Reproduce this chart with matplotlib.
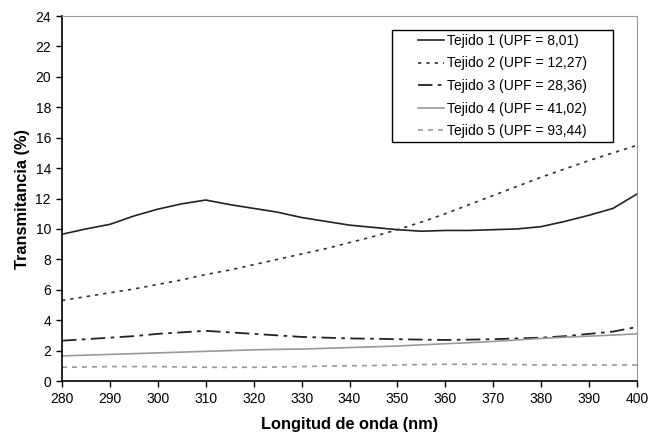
import matplotlib.pyplot as plt
import numpy as np
from matplotlib.patches import Rectangle
from matplotlib.transforms import IdentityTransform

plt.rcParams['font.family'] = ['Liberation Sans', 'DejaVu Sans']

# wavelength (nm), 5 nm steps
wavelength = np.arange(280, 401, 5)

tejido_1 = [9.65, 10.0, 10.3, 10.85, 11.3, 11.65, 11.9, 11.6, 11.35, 11.1, 10.75, 10.5, 10.25,
            10.1, 9.95, 9.85, 9.9, 9.9, 9.95, 10.0, 10.15, 10.5, 10.9, 11.35, 12.3]
tejido_2 = [5.3, 5.55, 5.8, 6.05, 6.35, 6.65, 7.0, 7.3, 7.65, 8.0, 8.35, 8.7, 9.1,
            9.5, 9.95, 10.45, 11.0, 11.6, 12.2, 12.8, 13.4, 13.95, 14.5, 15.0, 15.5]
tejido_3 = [2.65, 2.75, 2.85, 2.95, 3.1, 3.2, 3.3, 3.2, 3.1, 3.0, 2.9, 2.85, 2.8,
            2.78, 2.75, 2.72, 2.7, 2.72, 2.75, 2.8, 2.85, 2.95, 3.1, 3.25, 3.55]
tejido_4 = [1.65, 1.7, 1.75, 1.8, 1.85, 1.9, 1.95, 2.0, 2.05, 2.08, 2.1, 2.15, 2.2,
            2.25, 2.3, 2.38, 2.45, 2.52, 2.6, 2.7, 2.8, 2.88, 2.95, 3.02, 3.1]
tejido_5 = [0.9, 0.92, 0.95, 0.95, 0.95, 0.92, 0.9, 0.9, 0.9, 0.92, 0.95, 0.98, 1.0,
            1.02, 1.05, 1.08, 1.1, 1.1, 1.1, 1.08, 1.05, 1.05, 1.05, 1.05, 1.05]

labels = ["Tejido 1 (UPF = 8,01)", "Tejido 2 (UPF = 12,27)", "Tejido 3 (UPF = 28,36)",
          "Tejido 4 (UPF = 41,02)", "Tejido 5 (UPF = 93,44)"]

fig = plt.figure(figsize=(6.61, 4.34), dpi=100)
ax = fig.add_axes([0.0938, 0.1221, 0.8699, 0.841])

ax.plot(wavelength, tejido_1, color='#222222', lw=1.2, ls='-', label=labels[0])
ax.plot(wavelength, tejido_2, color='#333333', lw=1.2, ls=(0, (2, 3)), label=labels[1])
ax.plot(wavelength, tejido_3, color='#222222', lw=1.3, ls=(0, (8, 3, 2, 3)), label=labels[2])
ax.plot(wavelength, tejido_4, color='#999999', lw=1.2, ls='-', label=labels[3])
ax.plot(wavelength, tejido_5, color='#999999', lw=1.2, ls=(0, (3, 3)), label=labels[4])

ax.set_xlim(280, 400)
ax.set_ylim(0, 24)
ax.set_xticks(np.arange(280, 401, 10))
ax.set_yticks(np.arange(0, 25, 2))
ax.tick_params(direction='out', length=4, width=1, labelsize=10, colors='black', pad=4)

for side in ('top', 'right'):
    ax.spines[side].set_color('#999999')
for side in ('left', 'bottom'):
    ax.spines[side].set_color('black')
    ax.spines[side].set_linewidth(1.2)

ax.set_xlabel("Longitud de onda (nm)", fontsize=11.8, fontweight='bold', labelpad=8)
ax.set_ylabel("Transmitancia (%)", fontsize=11.8, fontweight='bold', labelpad=4)

# legend without frame, then a wider box drawn around it (Excel-like padding)
leg = ax.legend(loc='center', bbox_to_anchor=(502.5 / 661, 1 - 86 / 434),
                bbox_transform=fig.transFigure, fontsize=10, frameon=False,
                handlelength=1.9, handletextpad=0.2, labelspacing=0.62, borderpad=0.3)
leg.set_zorder(6)
fig.canvas.draw()
bb = leg.get_window_extent()
pad_x, pad_y = 22, 0
frame = Rectangle((bb.x0 - pad_x, bb.y0 - pad_y), bb.width + 2 * pad_x, bb.height + 2 * pad_y,
                  transform=IdentityTransform(), facecolor='white', edgecolor='black',
                  lw=1.0, zorder=5, clip_on=False)
ax.add_artist(frame)

fig.savefig("out.png", dpi=100)
